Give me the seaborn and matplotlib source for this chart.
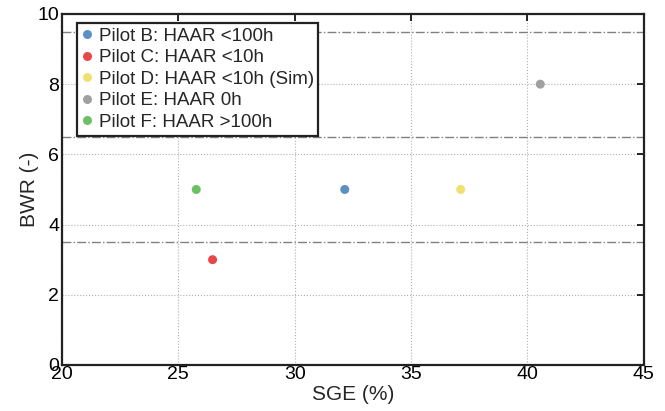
import matplotlib
matplotlib.use("Agg")
import matplotlib.pyplot as plt
import seaborn as sns
import pandas as pd

labels = ["Pilot B: HAAR <100h", "Pilot C: HAAR <10h", "Pilot D: HAAR <10h (Sim)",
          "Pilot E: HAAR 0h", "Pilot F: HAAR >100h"]
sge = [32.15, 26.47, 37.13, 40.55, 25.77]
bwr = [5, 3, 5, 8, 5]
colors = ["#5a90c2", "#e8474a", "#f0e070", "#a0a0a0", "#6cbf64"]
thresholds = [3.5, 6.5, 9.5]
xticks = [20, 25, 30, 35, 40, 45]
yticks = [0, 2, 4, 6, 8, 10]

sns.set_style("white")
plt.rcParams['font.family'] = ['Liberation Sans', 'DejaVu Sans']

df = pd.DataFrame({"SGE": sge, "BWR": bwr, "Pilot": labels})

fig = plt.figure(figsize=(6.65, 4.11), dpi=100)
ax = fig.add_axes([0.0932, 0.112, 0.875, 0.854])

ax.grid(True, color="#b0b0b0", linestyle=":", linewidth=0.8)
ax.set_axisbelow(True)
for t in thresholds:
    ax.axhline(t, color="#808080", linestyle="-.", linewidth=1.0, zorder=1)

sns.scatterplot(data=df, x="SGE", y="BWR", hue="Pilot", hue_order=labels,
                palette=colors, s=42, edgecolor="none", ax=ax, zorder=3)

ax.set_xlim(20, 45)
ax.set_ylim(0, 10)
ax.set_xticks(xticks)
ax.set_yticks(yticks)
ax.set_xlabel("SGE (%)", fontsize=15, labelpad=1)
ax.set_ylabel("BWR (-)", fontsize=15, labelpad=-1)
ax.tick_params(direction="in", length=5, width=1.2, labelsize=14, colors="black",
               top=True, right=True)
ax.tick_params(axis="x", pad=1)
ax.tick_params(axis="y", pad=2)
for sp in ax.spines.values():
    sp.set_visible(True)
    sp.set_color("#222222")
    sp.set_linewidth(1.6)

leg = ax.legend(loc="upper left", bbox_to_anchor=(0.026, 0.975), fontsize=13.5,
                frameon=True, fancybox=False,
                handletextpad=0.3, borderpad=0.25, labelspacing=0.24,
                borderaxespad=0.0, handlelength=0.6, markerscale=1.0)
leg.get_frame().set_edgecolor("#222222")
leg.get_frame().set_linewidth(1.6)
leg.get_frame().set_alpha(1)

fig.savefig("out.png", dpi=100)
